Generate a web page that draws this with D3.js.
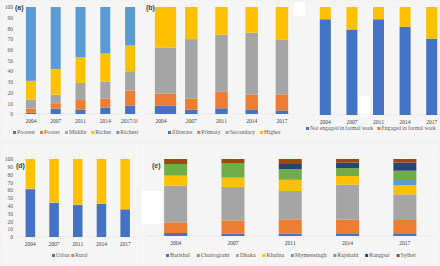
<!DOCTYPE html>
<html>
<head>
<meta charset="utf-8">
<script src="https://cdn.jsdelivr.net/npm/d3@7/dist/d3.min.js"></script>
<style>
body { margin: 0; background: #f5f5f5; }
svg { display: block; font-family: "Liberation Serif", "DejaVu Serif", serif; }
</style>
</head>
<body>
<svg id="chart" width="440" height="266"></svg>
<script>
// Survey years (same in every panel)
var years = ["2004", "2007", "2011", "2014", "2017"];
var yearsA = ["2004", "2007", "2011", "2014", "2017/18"];
var yTicks = [0, 10, 20, 30, 40, 50, 60, 70, 80, 90, 100];

// (a) wealth quintile, % share
var wealthKeys = ["Poorest", "Poorer", "Middle", "Richer", "Richest"];
var poorest = [1, 5, 4, 6, 8];
var poorer = [4, 5, 9, 8.5, 14];
var middle = [8.5, 8, 16, 16, 18];
var richer = [17.5, 24, 24, 26, 24];
var richest = [69, 58, 47, 43.5, 36];

// (b) education
var eduKeys = ["Illiterate", "Primary", "Secondary", "Higher"];
var illiterate = [7.7, 4, 5.3, 4.3, 3.4];
var primary = [11.3, 10.5, 15.4, 14, 15];
var secondary = [43, 55.5, 53.3, 57.7, 50.9];
var higher = [38, 30, 26, 24, 30.7];

// (c) work status (third series has no visible legend entry)
var workKeys = ["Not engaged in formal work", "Engaged in formal work", "Other"];
var notEngaged = [88.5, 79, 88.5, 81.5, 70.5];
var engaged = [0.4, 0.4, 0.4, 0.4, 0.4];
var workOther = [11.1, 20.6, 11.1, 18.1, 29.1];

// (d) residence
var resKeys = ["Urban", "Rural", "Other"];
var urban = [61.3, 43.8, 40.9, 42.6, 35.3];
var rural = [0.6, 0.3, 0.3, 0.3, 0.7];
var resOther = [38.1, 55.9, 58.8, 57.1, 64];

// (e) division
var divKeys = ["Barishal", "Chattogram", "Dhaka", "Khulna", "Mymensingh", "Rajshahi", "Rangpur", "Sylhet"];
var barishal = [3.9, 3, 3, 3.5, 3.5];
var chattogram = [13.8, 17.3, 18.6, 17.7, 17.3];
var dhaka = [47.7, 43.3, 36.8, 45.5, 33.3];
var khulna = [13, 12.2, 14.6, 11.2, 12.1];
var mymensingh = [0, 0, 0, 0, 6.5];
var rajshahi = [15.1, 19, 13.6, 10.4, 12.1];
var rangpur = [0, 0, 6.9, 6.9, 10.4];
var sylhet = [6.5, 5.2, 6.5, 4.8, 4.8];

// office palette
var cBlue = "#4472c4", cOrange = "#ed7d31", cGrey = "#a5a5a5", cYellow = "#ffc000",
    cLight = "#5b9bd5", cGreen = "#70ad47", cNavy = "#264478", cBrown = "#9e480e";

var svg = d3.select("#chart");

// faint panel frames
var frames = [[1, 1, 438, 141], [1, 143, 133, 122], [139, 143, 300, 122]];
svg.selectAll("rect.frame").data(frames).enter().append("rect")
    .attr("class", "frame")
    .attr("x", function (d) { return d[0]; })
    .attr("y", function (d) { return d[1]; })
    .attr("width", function (d) { return d[2]; })
    .attr("height", function (d) { return d[3]; })
    .style("fill", "none")
    .style("stroke", "#e4e4e4")
    .style("stroke-width", 0.6)
    .style("stroke-dasharray", "1,1.5");

// white paste-over patches seen in the figure
var patches = [[294, 2, 11, 14], [358, 96, 12, 21], [142, 191, 20, 33]];
svg.selectAll("rect.patch").data(patches).enter().append("rect")
    .attr("class", "patch")
    .attr("x", function (d) { return d[0]; })
    .attr("y", function (d) { return d[1]; })
    .attr("width", function (d) { return d[2]; })
    .attr("height", function (d) { return d[3]; })
    .style("fill", "#ffffff");

function makeRows(cats, keys, series) {
    return cats.map(function (c, i) {
        var row = {cat: c};
        keys.forEach(function (k, j) { row[k] = series[j][i]; });
        return row;
    });
}

function drawPanel(p) {
    var g = svg.append("g");
    var rows = makeRows(p.cats, p.keys, p.series);
    var x = d3.scaleBand().domain(p.cats).range(p.xRange);
    var y = d3.scaleLinear().domain([0, 100]).range(p.yRange);
    var stack = d3.stack().keys(p.keys)(rows);

    if (p.clip) {
        svg.append("clipPath").attr("id", p.clip.id)
            .append("rect").attr("x", p.clip.x0).attr("y", 0)
            .attr("width", p.clip.x1 - p.clip.x0).attr("height", 266);
        g.attr("clip-path", "url(#" + p.clip.id + ")");
    }

    // baseline
    g.append("line")
        .attr("x1", p.xRange[0]).attr("x2", p.xRange[1])
        .attr("y1", y(0)).attr("y2", y(0))
        .style("stroke", "#d9d9d9").style("stroke-width", 0.6)
        .style("stroke-dasharray", "1,1");

    if (p.yAxis) {
        g.append("g")
            .attr("transform", "translate(" + p.yAxis + ",0)")
            .call(d3.axisLeft(y).tickValues(yTicks).tickSize(0).tickPadding(0))
            .call(function (a) { a.select(".domain").remove(); })
            .selectAll("text")
            .style("font-family", "Liberation Serif")
            .style("font-size", "5.5px")
            .style("fill", "#595959");
    }

    var layers = g.selectAll("g.layer").data(stack).enter().append("g")
        .attr("class", "layer")
        .style("fill", function (d, i) { return p.colors[i]; });

    layers.selectAll("rect").data(function (d) { return d; }).enter().append("rect")
        .attr("x", function (d) { return x(d.data.cat) + x.bandwidth() / 2 - p.barW / 2; })
        .attr("width", function (d, i) { return p.barW * (p.widen && p.widen[i] ? p.widen[i] : 1); })
        .attr("y", function (d) { return y(d[1]); })
        .attr("height", function (d) { return Math.max(0, y(d[0]) - y(d[1])); });

    // category labels
    g.append("g")
        .attr("transform", "translate(0," + (y(0) + 5) + ")")
        .call(d3.axisBottom(x).tickSize(0).tickPadding(0))
        .call(function (a) { a.select(".domain").remove(); })
        .selectAll("text")
        .style("font-family", "Liberation Serif")
        .style("font-size", "5.5px")
        .style("fill", "#404040");

    // panel letter
    if (p.letter) {
        g.append("text")
            .attr("x", p.letter[1]).attr("y", p.letter[2])
            .style("font-family", "Liberation Sans")
            .style("font-weight", "bold")
            .style("font-size", "7px")
            .style("fill", "#404040")
            .text(p.letter[0]);
    }

    // legend, laid out left to right
    var lx = p.legend[0];
    var ly = p.legend[1];
    p.keys.forEach(function (k, i) {
        if (i >= p.legendCount) return;
        var item = svg.append("g").attr("transform", "translate(" + lx + "," + ly + ")");
        item.append("rect")
            .attr("x", 0).attr("y", -3)
            .attr("width", 3).attr("height", 3)
            .style("fill", p.colors[i]);
        var t = item.append("text")
            .attr("x", 4).attr("y", 0)
            .style("font-size", p.legendFont + "px")
            .style("fill", "#595959")
            .text(k);
        lx += 4 + t.node().getComputedTextLength() + p.legendGap;
    });
}

drawPanel({
    cats: yearsA, keys: wealthKeys, series: [poorest, poorer, middle, richer, richest],
    colors: [cBlue, cOrange, cGrey, cYellow, cLight],
    xRange: [18.5, 142.5], yRange: [114, 7], barW: 10, yAxis: 13,
    letter: ["(a)", 15, 10], legend: [13, 134], legendCount: 5, legendFont: 6, legendGap: 5,
    clip: {id: "clipA", x0: 0, x1: 137.5}
});

drawPanel({
    cats: years, keys: eduKeys, series: [illiterate, primary, secondary, higher],
    colors: [cBlue, cOrange, cGrey, cYellow],
    xRange: [146, 297], yRange: [114, 7], barW: 12.5, widen: [1.7],
    letter: ["(b)", 146, 10], legend: [168, 134], legendCount: 4, legendFont: 6, legendGap: 5
});

drawPanel({
    cats: years, keys: workKeys, series: [notEngaged, engaged, workOther],
    colors: [cBlue, cOrange, cYellow],
    xRange: [312, 445], yRange: [115, 7], barW: 11,
    legend: [306, 130], legendCount: 2, legendFont: 5.6, legendGap: 4
});

drawPanel({
    cats: years, keys: resKeys, series: [urban, rural, resOther],
    colors: [cBlue, cOrange, cYellow],
    xRange: [18.5, 137], yRange: [237, 159], barW: 9.5, yAxis: 13,
    letter: ["(d)", 16, 168], legend: [52, 257], legendCount: 2, legendFont: 5.5, legendGap: 1.5
});

drawPanel({
    cats: years, keys: divKeys,
    series: [barishal, chattogram, dhaka, khulna, mymensingh, rajshahi, rangpur, sylhet],
    colors: [cBlue, cOrange, cGrey, cYellow, cLight, cGreen, cNavy, cBrown],
    xRange: [147, 433.5], yRange: [236, 159], barW: 23,
    letter: ["(e)", 152, 168], legend: [166, 257], legendCount: 8, legendFont: 6, legendGap: 6.8
});
</script>
</body>
</html>
